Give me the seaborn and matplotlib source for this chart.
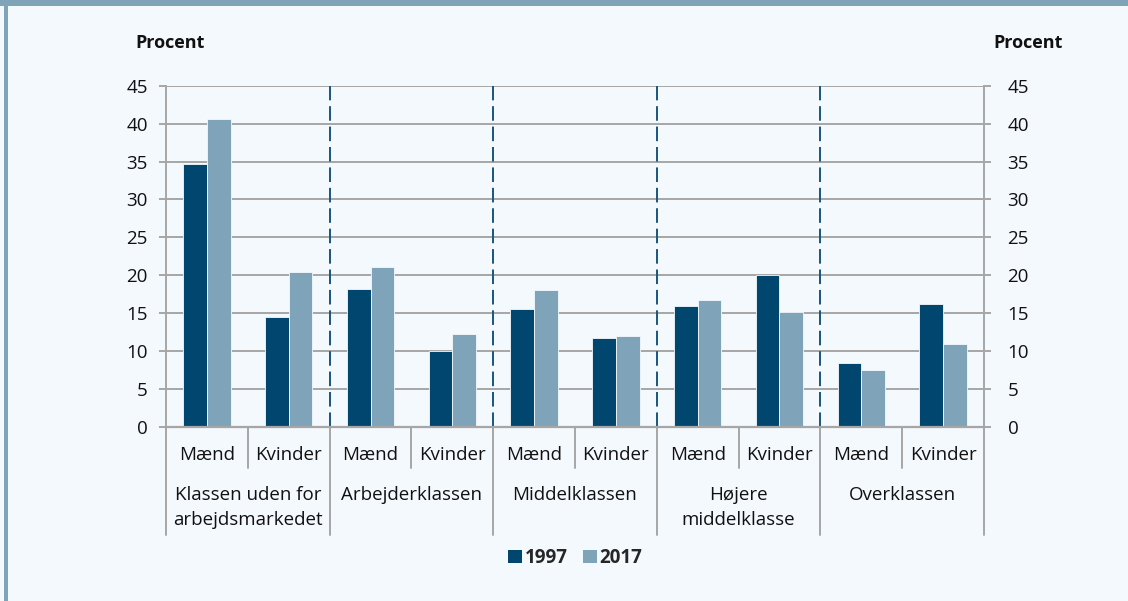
import numpy as np
import pandas as pd
import matplotlib
matplotlib.use("Agg")
import matplotlib.pyplot as plt
import matplotlib.transforms as mtransforms
from matplotlib.patches import Rectangle
import seaborn as sns

# Data
groups = ["Klassen uden for\narbejdsmarkedet", "Arbejderklassen", "Middelklassen",
          "Højere\nmiddelklasse", "Overklassen"]
genders = ["Mænd", "Kvinder"]
years = ["1997", "2017"]
values_1997 = [34.7, 14.5, 18.2, 10.0, 15.5, 11.7, 16.0, 20.1, 8.5, 16.2]
values_2017 = [40.6, 20.5, 21.1, 12.3, 18.1, 12.0, 16.7, 15.2, 7.5, 11.0]

BG = "#f4f9fd"
DARK = "#00466e"
LIGHT = "#7fa3b8"
GRID = "#a6a6a6"

slots = [f"{g}|{s}" for g in groups for s in genders]
df = pd.DataFrame({
    "slot": slots * 2,
    "year": [years[0]] * len(slots) + [years[1]] * len(slots),
    "value": values_1997 + values_2017,
})

sns.set_theme(style="white")
plt.rcParams["font.family"] = ["Open Sans", "DejaVu Sans"]

fig = plt.figure(figsize=(11.28, 6.01), dpi=100, facecolor=BG)
ax = fig.add_axes([0.1472, 0.2895, 0.8723 - 0.1472, 0.8574 - 0.2895])
ax.set_facecolor(BG)

sns.barplot(data=df, x="slot", y="value", hue="year", order=slots,
            hue_order=years, palette=[DARK, LIGHT], width=0.58, gap=0,
            saturation=1, edgecolor=BG, linewidth=0.6, legend=False, ax=ax, zorder=3)

ax.set_ylim(0, 45)
ax.set_xlim(-0.5, len(slots) - 0.5)
ax.set_yticks(np.arange(0, 46, 5))
ax.yaxis.grid(True, color=GRID, linewidth=1.4, zorder=0)
ax.set_axisbelow(True)
ax.set_xlabel("")
ax.set_ylabel("")
ax.set_xticks([])
for side in ["top", "bottom"]:
    ax.spines[side].set_visible(False)
for side in ["left", "right"]:
    ax.spines[side].set_color(GRID)
    ax.spines[side].set_linewidth(1.4)
ax.tick_params(axis="y", which="both", left=True, length=5, width=1.4,
               color=GRID, labelsize=13.5, labelcolor="#111111", pad=8)

ax2 = ax.twinx()
ax2.set_ylim(0, 45)
ax2.set_yticks(np.arange(0, 46, 5))
for side in ["top", "bottom", "left", "right"]:
    ax2.spines[side].set_visible(False)
ax2.tick_params(axis="y", right=True, length=5, width=1.4, color=GRID,
                labelsize=13.5, labelcolor="#111111", pad=12)
ax2.grid(False)

# x axis line
ax.axhline(0, color=GRID, linewidth=1.6, zorder=4, clip_on=False)

trans = mtransforms.blended_transform_factory(ax.transData, ax.transAxes)

# dashed separators between class groups
for i in range(1, len(groups)):
    ax.plot([2 * i - 0.5, 2 * i - 0.5], [0, 1], transform=trans, color="#1a5580",
            linewidth=1.4, linestyle=(0, (7.5, 3)), zorder=2)

# category separators below the axis
for i in range(len(groups) + 1):
    ax.plot([2 * i - 0.5] * 2, [0, -0.317], transform=trans, color=GRID,
            linewidth=1.4, clip_on=False)
for i in range(len(groups)):
    ax.plot([2 * i + 0.5] * 2, [0, -0.12], transform=trans, color=GRID,
            linewidth=1.4, clip_on=False)

# sub labels and group labels
for j, s in enumerate(slots):
    ax.text(j, -0.083, s.split("|")[1], transform=trans, ha="center", va="center",
            fontsize=13.5, color="#111111")
for i, g in enumerate(groups):
    ax.text(2 * i + 0.5, -0.172, g, transform=trans, ha="center", va="top",
            fontsize=13.5, color="#111111", linespacing=1.55)

fig.text(170 / 1128, 1 - 43 / 601, "Procent", ha="center", va="center",
         fontsize=13, fontweight="bold", color="#111111")
fig.text(1028 / 1128, 1 - 43 / 601, "Procent", ha="center", va="center",
         fontsize=13, fontweight="bold", color="#111111")

handles = [Rectangle((0, 0), 1, 1, facecolor=c, edgecolor="none") for c in [DARK, LIGHT]]
leg = fig.legend(handles, years, loc="center", bbox_to_anchor=(575 / 1128, 1 - 558 / 601),
                 ncol=2, frameon=False, handlelength=0.75, handleheight=0.75,
                 handletextpad=0.15, columnspacing=0.8, prop={"weight": "bold", "size": 13.5})

# frame bands
fig.patches.append(Rectangle((0, 1 - 6 / 601), 1, 6 / 601, transform=fig.transFigure,
                             facecolor=LIGHT, edgecolor="none", zorder=10))
fig.patches.append(Rectangle((4 / 1128, 0), 4 / 1128, 1, transform=fig.transFigure,
                             facecolor=LIGHT, edgecolor="none", zorder=10))

fig.savefig("out.png", dpi=100, facecolor=BG)
